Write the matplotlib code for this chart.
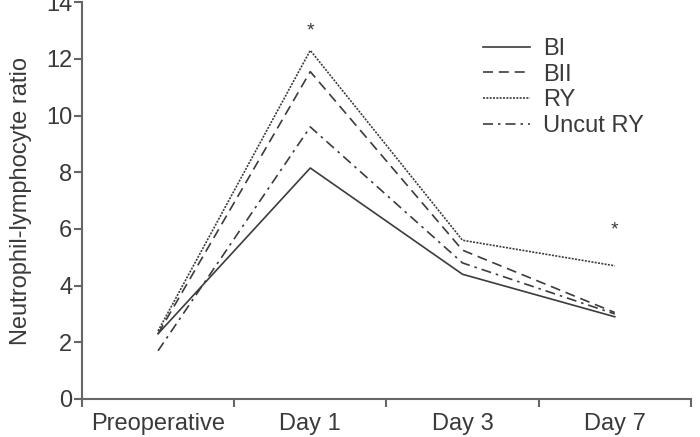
import matplotlib
matplotlib.use("Agg")
import matplotlib.pyplot as plt

categories = ["Preoperative", "Day 1", "Day 3", "Day 7"]
series_names = ["BI", "BII", "RY", "Uncut RY"]
bi = [2.3, 8.15, 4.4, 2.9]
bii = [2.3, 11.55, 5.25, 3.05]
ry = [2.4, 12.3, 5.6, 4.7]
uncut_ry = [1.7, 9.6, 4.8, 3.0]
star_positions = ["Day 1", "Day 7"]
star_values = [13.0, 5.95]

plt.rcParams['font.family'] = ['Liberation Sans', 'DejaVu Sans']
text_color = "#3a3a3a"
axis_color = "#666666"
line_color = "#3c3c3c"

fig = plt.figure(figsize=(7.0, 4.37), dpi=100)
ax = fig.add_axes([0.117, 0.087, 0.870, 0.908])

x = list(range(len(categories)))
styles = [
    dict(linestyle="-", linewidth=1.2),
    dict(linestyle=(0, (6, 3.5)), linewidth=1.2),
    dict(linestyle=(0, (1.2, 0.8)), linewidth=1.2),
    dict(linestyle=(0, (6, 3, 1.5, 3)), linewidth=1.2),
]
for name, vals, st in zip(series_names, [bi, bii, ry, uncut_ry], styles):
    ax.plot(x, vals, color=line_color, label=name, **st)

for cat, v in zip(star_positions, star_values):
    ax.text(categories.index(cat), v, "*", ha="center", va="center",
            fontsize=14, color=text_color)

ax.set_xlim(-0.5, 3.5)
ax.set_ylim(0, 14)
ax.set_yticks(range(0, 15, 2))
ax.set_xticks([-0.5, 0.5, 1.5, 2.5, 3.5])
ax.set_xticklabels([""] * 5)
ax.set_xticks(x, minor=True)
ax.set_xticklabels(categories, minor=True)
ax.tick_params(axis="x", which="minor", length=0, pad=10, labelsize=17, labelcolor=text_color)
ax.tick_params(axis="x", which="major", length=6, width=1.5, color=axis_color)
ax.tick_params(axis="y", length=6, width=1.5, color=axis_color, pad=1,
               labelsize=17, labelcolor=text_color)

for s in ["top", "right"]:
    ax.spines[s].set_visible(False)
for s in ["left", "bottom"]:
    ax.spines[s].set_color(axis_color)
    ax.spines[s].set_linewidth(1.5)

ax.set_ylabel("Neutrophil-lymphocyte ratio", fontsize=17, color=text_color, labelpad=10)

leg = ax.legend(loc="upper left", bbox_to_anchor=(0.658, 0.91), frameon=False,
                fontsize=17, handlelength=2.0, handletextpad=0.55,
                labelspacing=0.16, borderaxespad=0, borderpad=0)
for t in leg.get_texts():
    t.set_color(text_color)

fig.savefig("out.png", dpi=100)
